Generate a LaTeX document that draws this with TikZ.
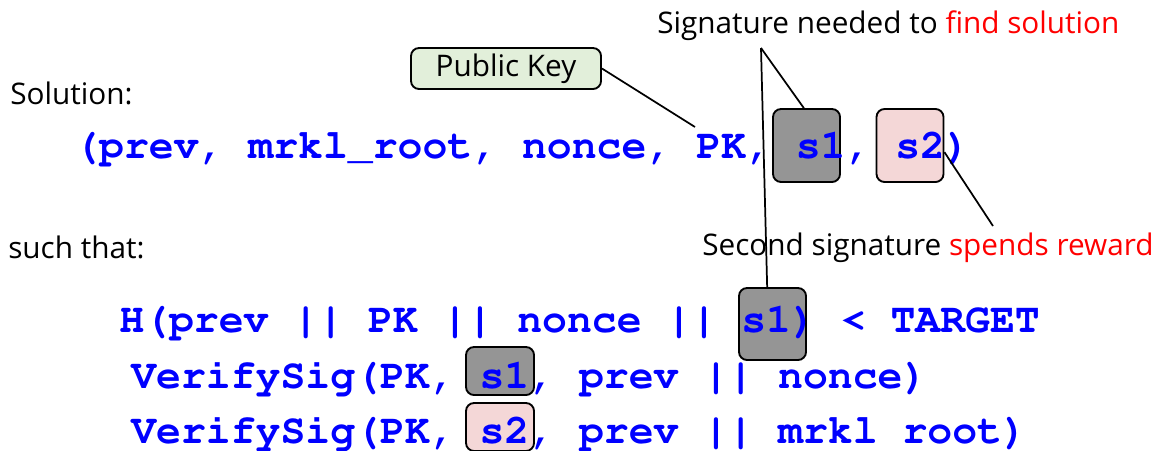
\documentclass[tikz,border=0pt]{standalone}
\usepackage[T1,TU]{fontenc}
\usepackage{fontspec}
\setmainfont{Open Sans}
\usetikzlibrary{calc}

\definecolor{keygreen}{HTML}{E2EFDA}
\definecolor{sigdark}{HTML}{959595}
\definecolor{sigpink}{HTML}{F4D7D7}
\definecolor{codeblue}{HTML}{0000FF}

\newcommand{\codefont}{\fontencoding{T1}\fontfamily{pcr}\fontseries{b}\selectfont}

\tikzset{
  sigbox/.style={draw=black, line width=1.4pt, rounded corners=6pt, inner sep=0pt},
  code/.style={anchor=base west, inner sep=0pt, text=codeblue,
    font=\fontsize{31.1}{36}\codefont},
  note/.style={anchor=base west, inner sep=0pt, font=\fontsize{22.3}{26}\selectfont},
  link/.style={line width=1.3pt}
}

\begin{document}
\begin{tikzpicture}[x=0.75pt,y=-0.75pt]
  %%%%% START %%%%%
  \useasboundingbox (0,0) rectangle (1163,450);

  % highlight boxes (behind the code)
  \node[sigbox, fill=keygreen, minimum width=142.5pt, minimum height=30.75pt,
        font=\fontsize{22.3}{26}\selectfont] (pk) at (506,68.5) {Public Key};
  \node[sigbox, fill=sigdark, minimum width=50.25pt, minimum height=54.75pt] (s1a) at (806.5,145.5) {};
  \node[sigbox, fill=sigpink, minimum width=50.25pt, minimum height=54.75pt] (s2a) at (910,145.5) {};
  \node[sigbox, fill=sigdark, minimum width=50.25pt, minimum height=54pt] (s1b) at (772.5,324) {};
  \node[sigbox, fill=sigdark, minimum width=51pt, minimum height=36pt] (s1c) at (500,371) {};
  \node[sigbox, fill=sigpink, minimum width=51pt, minimum height=36pt] (s2c) at (500,427) {};

  % labels
  \node[note] (sol) at (10,104) {Solution:};
  \node[note] (such) at (8,258) {such that:};
  \node[note] (needed) at (657,33) {Signature needed to \textcolor{red}{find solution}};
  \node[note] (reward) at (702,255) {Second signature \textcolor{red}{spends reward}};

  % code lines
  \node[code] (tuple) at (74,158) {(prev, mrkl\_root, nonce, PK, s1, s2)};
  \node[code] (hash) at (119,332) {H(prev || PK || nonce || s1) < TARGET};
  \node[code] (ver1) at (131,388) {VerifySig(PK, s1, prev || nonce)};
  \node[code] (ver2) at (131,443) {VerifySig(PK, s2, prev || mrkl root)};

  % connectors
  \coordinate (apex) at (761,48);
  \coordinate (pkpt) at (695,127);
  \coordinate (rewardpt) at (993,226);
  \draw[link] (pk.east) -- (pkpt);
  \draw[link] (apex) -- ([xshift=-2pt]s1a.north);
  \draw[link] (apex) -- ([xshift=-4pt]s1b.north);
  \draw[link] ([yshift=-5pt]s2a.east) -- (rewardpt);
  %%%%% END %%%%%
\end{tikzpicture}
\end{document}
